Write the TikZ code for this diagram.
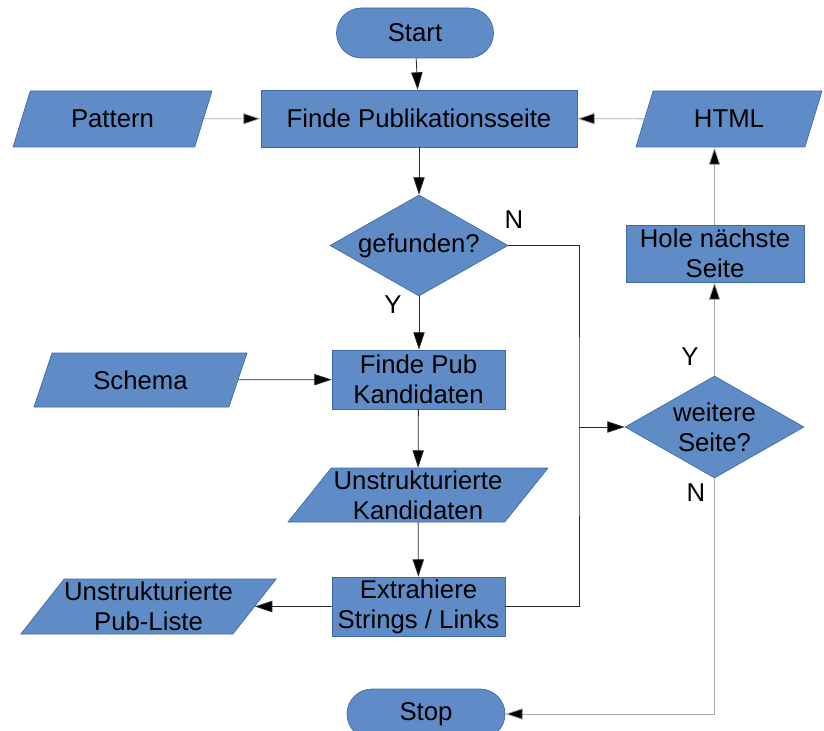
\documentclass[tikz,border=0pt]{standalone}
\usepackage{fontspec}
\setmainfont{Liberation Sans}
\usepackage{tikz}
\usetikzlibrary{shapes.geometric,arrows.meta}
\definecolor{flowfill}{RGB}{95, 140, 198}
\definecolor{flowedge}{RGB}{60, 105, 170}
\definecolor{flowline}{RGB}{40, 40, 40}
\definecolor{flowgray}{RGB}{170, 170, 170}

\tikzset{
    box/.style={draw=flowedge, fill=flowfill, line width=0.5pt, inner sep=1pt,
        align=center, font=\flowfont},
    terminal/.style={box, rectangle, rounded corners=18.75pt, minimum height=37.5pt},
    process/.style={box, rectangle},
    io/.style={box, trapezium, trapezium left angle=50, trapezium right angle=130,
        trapezium stretches body=true, inner xsep=0pt},
    % text sits in a centre label so it may run over the diamond's edges
    decision/.style={box, diamond, inner sep=0pt,
        label={[align=center, font=\flowfont]center:#1}},
    conn/.style={draw=flowline, line width=0.6pt,
        -{Triangle[length=13pt, width=8.5pt, fill=black]}},
    connlight/.style={conn, draw=flowgray},
    branch/.style={font=\flowfont, text=black}
}
\newcommand{\flowfont}{\fontsize{19.3}{22.5}\selectfont}

\begin{document}
\begin{tikzpicture}[x=0.75pt, y=-0.75pt]
\useasboundingbox (0,0) rectangle (824,731);

% main column
\node[terminal, minimum width=117.75pt] (start) at (415,33) {Start};
\node[process, minimum width=237pt, minimum height=42.75pt] (findpage) at (419,118.5) {Finde Publikationsseite};
\node[decision={gefunden?}, minimum width=133.5pt, minimum height=75.75pt] (found) at (419,245.5) {};
\node[process, minimum width=129.75pt, minimum height=44.25pt] (findcand) at (418.5,379.5) {Finde Pub\\Kandidaten};
\node[io, minimum width=195pt, minimum height=40.5pt] (rawcand) at (418,495) {Unstrukturierte\\Kandidaten};
\node[process, minimum width=129.75pt, minimum height=44.25pt] (extract) at (418.5,606.5) {Extrahiere\\Strings / Links};
\node[terminal, minimum width=118.5pt] (stop) at (426,714) {Stop};

% inputs and outputs on the left
\node[io, minimum width=149.25pt, minimum height=42pt] (pattern) at (112.5,119) {Pattern};
\node[io, minimum width=159.75pt, minimum height=40.5pt] (schema) at (140.5,380) {Schema};
\node[io, minimum width=171.75pt, minimum height=41.25pt] (publist) at (148.5,606.5) {Unstrukturierte\\Pub-Liste};

% next page loop on the right
\node[io, minimum width=139.5pt, minimum height=42pt] (html) at (729,119) {HTML};
\node[process, minimum width=133.5pt, minimum height=42.75pt] (nextpage) at (715,253.5) {Hole nächste\\Seite};
\node[decision={weitere\\Seite?}, minimum width=134.25pt, minimum height=76.5pt] (more) at (714.5,427) {};

\coordinate (join) at (579,427);

% connectors
\draw[conn] (start) -- (findpage);
\draw[connlight] (pattern) -- (findpage);
\draw[connlight] (html) -- (findpage);
\draw[conn] (findpage.south -| found.north) -- (found);
\draw[conn] (found.south) -- (found.south |- findcand.north);
\draw[conn] (schema) -- (findcand);
\draw[conn] (findcand) -- (rawcand);
\draw[conn] (rawcand) -- (extract);
\draw[conn] (extract) -- (publist);
\draw[flowline, line width=0.6pt] (found.east) -| (join) |- (extract.east);
\draw[conn] (join) -- (more.west);
\draw[connlight] (more.north) -- (more.north |- nextpage.south);
\draw[connlight] (nextpage.north -| more.north) -- (more.north |- html.south);
\draw[connlight] (more.south) |- (stop.east);

% branch labels
\node[branch] (foundno) at (514,220) {N};
\node[branch] (foundyes) at (393,305) {Y};
\node[branch] (moreyes) at (690,357) {Y};
\node[branch] (moreno) at (696,493) {N};
\end{tikzpicture}
\end{document}
